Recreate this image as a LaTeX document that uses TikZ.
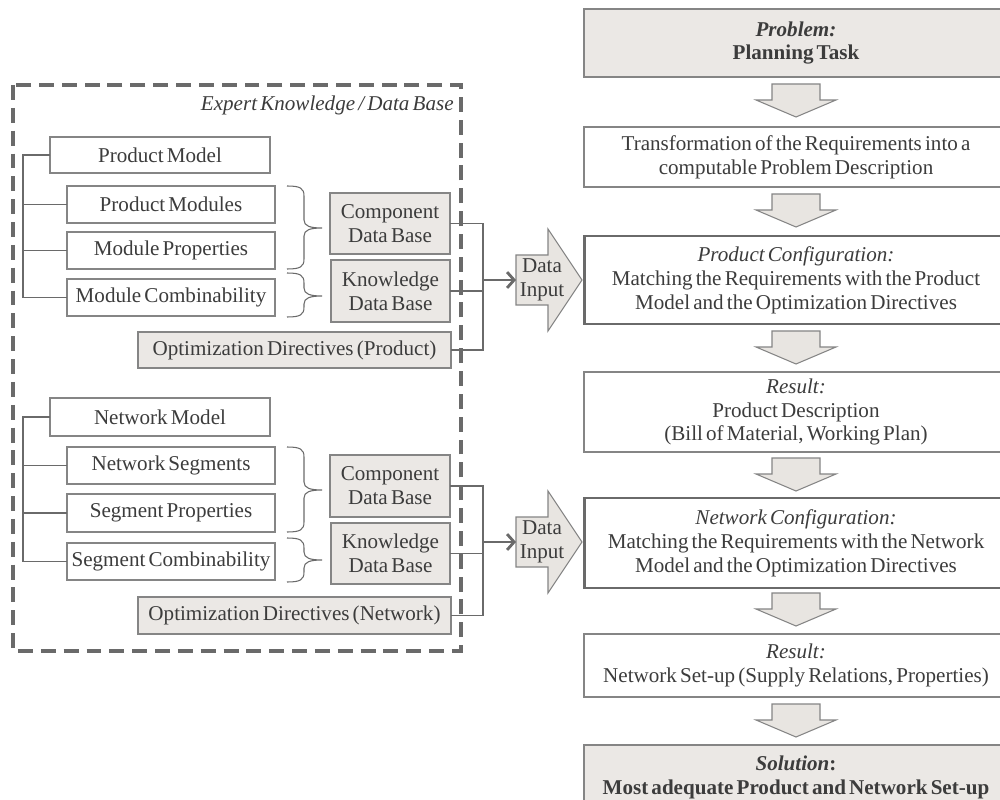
\documentclass[tikz,border=0pt]{standalone}
\usepackage{fontspec}
\setmainfont{Liberation Serif}[WordSpace=0.6]
\usetikzlibrary{calc,arrows.meta}
\definecolor{txt}{HTML}{3C3C3C}
\definecolor{ln}{HTML}{858585}
\definecolor{dk}{HTML}{6A6A6A}
\definecolor{gfill}{HTML}{EBE8E5}
\definecolor{afill}{HTML}{E8E5E1}
\newcommand{\fs}{\fontsize{12}{13.6}\selectfont}
\newcommand{\rbox}[7]{\node[#2, minimum width={(#5-(#3))*0.02cm}, minimum height={(#6-(#4))*0.02cm}] (#1) at ({(#3+#5)/2},{(#4+#6)/2}) {#7};}
\newcommand{\darr}[1]{\draw[darrow] (772,#1) -- (772,{#1+16}) -- (756,{#1+16}) -- (796,{#1+33}) -- (836,{#1+16}) -- (820,{#1+16}) -- (820,#1) -- cycle;}
\newcommand{\brc}[3]{\draw[brc] (287,#1) .. controls (300,#1) and (304,{#1+2}) .. (304,{#1+10}) -- (304,{#3-8}) .. controls (304,{#3-2}) and (310,#3) .. (322,#3) .. controls (310,#3) and (304,{#3+2}) .. (304,{#3+8}) -- (304,{#2-10}) .. controls (304,{#2-2}) and (300,#2) .. (287,#2);}
\newcommand{\dinput}[2]{\draw[darrow] (516,{#2-25}) -- (548,{#2-25}) -- (548,{#2-51}) -- (582,#2) -- (548,{#2+51}) -- (548,{#2+25}) -- (516,{#2+25}) -- cycle;
\node[align=center, inner sep=0pt] (#1) at (542,#2) {Data\\Input};
\coordinate (#1w) at (516,#2);}
\begin{document}
\begin{tikzpicture}[x=0.02cm,y=-0.02cm, font=\fs, text=txt,
 box/.style={draw=ln, line width=0.6pt, fill=white, align=center, inner sep=0pt, outer sep=0pt},
 gbox/.style={box, fill=gfill},
 tbox/.style={box, draw=dk, line width=1.7pt},
 conn/.style={draw=dk, line width=1.1pt},
 arr/.style={draw=dk, line width=1.6pt, -{Straight Barb[length=4pt,width=9pt]}},
 tree/.style={draw=dk, line width=0.8pt},
 brc/.style={draw=dk, line width=0.6pt},
 darrow/.style={draw=ln, fill=afill, line width=0.6pt, line join=miter},
 frame/.style={draw=dk, line width=2pt, dash pattern=on 8.5pt off 4.5pt},
 ]
\path[use as bounding box, clip] (0,0) rectangle (1000,800);
\fill[white] (0,0) rectangle (1000,800);

% expert knowledge frame
\draw[frame] (13,85) rectangle (461,651);
\node[anchor=east, font=\fs\itshape, inner sep=0pt] (ek) at (454,105) {Expert Knowledge / Data Base};

% product part
\rbox{pm}{box}{50}{137}{270}{173}{Product Model}
\rbox{pmod}{box}{67}{186}{275}{223}{Product Modules}
\rbox{mprop}{box}{67}{232}{275}{269}{Module Properties}
\rbox{mcomb}{box}{67}{279}{275}{316}{Module Combinability}
\rbox{cdb1}{gbox}{330}{193}{450}{254}{Component\\Data Base}
\rbox{kdb1}{gbox}{331}{260}{450}{322}{Knowledge\\Data Base}
\rbox{od1}{gbox}{138}{332}{451}{368}{Optimization Directives (Product)}

% network part
\rbox{nm}{box}{50}{398}{270}{436}{Network Model}
\rbox{nseg}{box}{67}{447}{275}{484}{Network Segments}
\rbox{sprop}{box}{67}{494}{275}{532}{Segment Properties}
\rbox{scomb}{box}{67}{543}{275}{580}{Segment Combinability}
\rbox{cdb2}{gbox}{330}{455}{450}{517}{Component\\Data Base}
\rbox{kdb2}{gbox}{331}{523}{450}{584}{Knowledge\\Data Base}
\rbox{od2}{gbox}{138}{597}{451}{634}{Optimization Directives (Network)}

% trees
\coordinate (t1) at (23,0);
\draw[tree] (pm.west) -- (pm.west -| t1) -- (mcomb.west -| t1) -- (mcomb.west);
\draw[tree] (pmod.west -| t1) -- (pmod.west);
\draw[tree] (mprop.west -| t1) -- (mprop.west);
\draw[tree] (nm.west) -- (nm.west -| t1) -- (scomb.west -| t1) -- (scomb.west);
\draw[tree] (nseg.west -| t1) -- (nseg.west);
\draw[tree] (sprop.west -| t1) -- (sprop.west);

% braces
\brc{186}{269}{228}
\brc{273}{317}{296}
\brc{447}{532}{490}
\brc{538}{582}{560}

% data input arrows
\dinput{di1}{280}
\dinput{di2}{542}
\coordinate (j1) at (483,280);
\coordinate (j2) at (483,542);
\draw[conn] (cdb1.east) -- (cdb1.east -| j1) -- (od1.east -| j1) -- (od1.east);
\draw[conn] (kdb1.east) -- (kdb1.east -| j1);
\draw[arr] (j1) -- (di1w);
\draw[conn] (cdb2.east) -- (cdb2.east -| j2) -- (od2.east -| j2) -- (od2.east);
\draw[conn] (kdb2.east) -- (kdb2.east -| j2);
\draw[arr] (j2) -- (di2w);

% right column
\rbox{prob}{gbox}{584}{9}{1008}{77}{\textbf{\textit{Problem:}}\\\textbf{Planning Task}}
\rbox{trans}{box}{584}{127}{1008}{187}{Transformation of the Requirements into a\\computable Problem Description}
\rbox{pconf}{tbox}{584}{236}{1008}{324}{\textit{Product Configuration:}\\Matching the Requirements with the Product\\Model and the Optimization Directives}
\rbox{res1}{box}{584}{372}{1008}{452}{\textit{Result:}\\Product Description\\(Bill of Material, Working Plan)}
\rbox{nconf}{tbox}{584}{498}{1008}{588}{\textit{Network Configuration:}\\Matching the Requirements with the Network\\Model and the Optimization Directives}
\rbox{res2}{box}{584}{634}{1008}{697}{\textit{Result:}\\Network Set-up (Supply Relations, Properties)}
\rbox{sol}{gbox}{584}{745}{1008}{809}{\textbf{\textit{Solution}:}\\\textbf{Most adequate Product and Network Set-up}}

% down arrows
\darr{84}
\darr{194}
\darr{331}
\darr{458}
\darr{593}
\darr{704}
\end{tikzpicture}
\end{document}
